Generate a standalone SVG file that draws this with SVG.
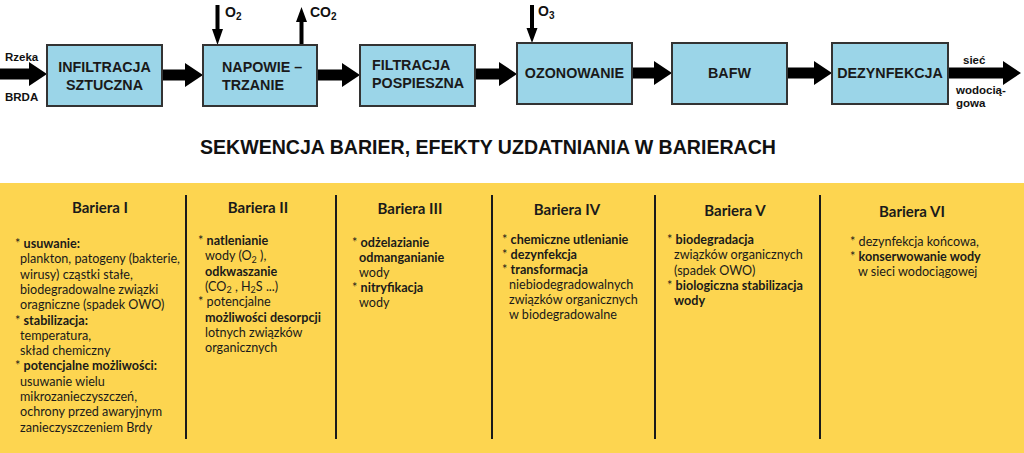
<svg xmlns="http://www.w3.org/2000/svg" width="1024" height="453" viewBox="0 0 1024 453">
<style>
.box{fill:#9bd5e8;stroke:#333;stroke-width:2}
.bt{font-family:"Liberation Sans",Arial,sans-serif;font-weight:bold;font-size:14.3px;fill:#1a1a1a}
.lab{font-family:"Liberation Sans",Arial,sans-serif;font-weight:bold;font-size:11.5px;fill:#111}
.gas{font-family:"Liberation Sans",Arial,sans-serif;font-weight:bold;font-size:14px;fill:#111}
.arr{fill:#000}
.title{font-family:"Liberation Sans",Arial,sans-serif;font-weight:bold;font-size:19.5px;fill:#111}
.div{stroke:#1a1a1a;stroke-width:2}
.h{font-family:Lato,"Noto Sans",sans-serif;font-weight:bold;font-size:15px;fill:#1a1a1a;text-anchor:middle}
.t{font-family:Lato,"Noto Sans",sans-serif;font-size:12.6px;fill:#1a1a1a}
.b{font-weight:bold}
.sub{font-size:9px}
</style>
<rect x="0" y="0" width="1024" height="453" fill="#fff"/>
<rect x="0" y="183" width="1024" height="270" fill="#fdd550"/>

<g id="connectors">
<polygon class="arr" points="0,68.5 29,68.5 29,62 47,74 29,86 29,79.5 0,79.5"/>
<polygon class="arr" points="162,69.5 185,69.5 185,63 203,75 185,87 185,80.5 162,80.5"/>
<polygon class="arr" points="317,69.5 342,69.5 342,63 360,75 342,87 342,80.5 317,80.5"/>
<polygon class="arr" points="475,68.5 499,68.5 499,62 517,74 499,86 499,79.5 475,79.5"/>
<polygon class="arr" points="632,67.5 654,67.5 654,61 672,73 654,85 654,78.5 632,78.5"/>
<polygon class="arr" points="787,67.5 814,67.5 814,61 832,73 814,85 814,78.5 787,78.5"/>
<polygon class="arr" points="948,67.5 1003,67.5 1003,61 1021,73 1003,85 1003,78.5 948,78.5"/>
<polygon class="arr" points="215.5,5 219.5,5 219.5,29 223,29 217.5,45 212,29 215.5,29"/>
<polygon class="arr" points="301.5,7 307,22 303.5,22 303.5,45 299.5,45 299.5,22 296,22"/>
<polygon class="arr" points="530,5 534,5 534,28 537.5,28 532,43 526.5,28 530,28"/>
<text class="lab" x="5" y="61">Rzeka</text>
<text class="lab" x="5" y="101">BRDA</text>
<text class="lab" x="963" y="64">sieć</text>
<text class="lab" x="956" y="94">wodocią-</text>
<text class="lab" x="956" y="107">gowa</text>
<text class="gas" x="225" y="17">O<tspan font-size="10" dy="3">2</tspan></text>
<text class="gas" x="310" y="17">CO<tspan font-size="10" dy="3">2</tspan></text>
<text class="gas" x="538" y="16" font-weight="normal">O<tspan font-size="10" dy="3">3</tspan></text>
</g>

<g id="infiltracja">
<rect class="box" x="47" y="45" width="115" height="61"/>
<text class="bt" x="104.5" y="72" text-anchor="middle">INFILTRACJA</text>
<text class="bt" x="104.5" y="90" text-anchor="middle">SZTUCZNA</text>
</g>
<g id="napowietrzanie">
<rect class="box" x="203" y="45" width="114" height="61"/>
<text class="bt" x="222" y="72">NAPOWIE –</text>
<text class="bt" x="222" y="90">TRZANIE</text>
</g>
<g id="filtracja">
<rect class="box" x="360" y="45" width="115" height="61"/>
<text class="bt" x="372" y="70">FILTRACJA</text>
<text class="bt" x="372" y="88">POSPIESZNA</text>
</g>
<g id="ozonowanie">
<rect class="box" x="517" y="43" width="115" height="61"/>
<text class="bt" x="574.5" y="78" text-anchor="middle">OZONOWANIE</text>
</g>
<g id="bafw">
<rect class="box" x="672" y="43" width="115" height="61"/>
<text class="bt" x="729.5" y="78" text-anchor="middle">BAFW</text>
</g>
<g id="dezynfekcja">
<rect class="box" x="832" y="43" width="116" height="61"/>
<text class="bt" x="890" y="78" text-anchor="middle">DEZYNFEKCJA</text>
</g>

<text class="title" x="200" y="154" textLength="576" lengthAdjust="spacingAndGlyphs">SEKWENCJA BARIER, EFEKTY UZDATNIANIA W BARIERACH</text>

<g id="dividers">
<line class="div" x1="186" y1="195" x2="186" y2="439"/>
<line class="div" x1="336" y1="195" x2="336" y2="439"/>
<line class="div" x1="492" y1="195" x2="492" y2="439"/>
<line class="div" x1="655" y1="195" x2="655" y2="439"/>
<line class="div" x1="820" y1="195" x2="820" y2="439"/>
</g>

<g id="bariera-1">
<text class="h" x="100" y="213">Bariera I</text>
<text class="t" x="15" y="248">* <tspan class="b">usuwanie:</tspan></text>
<text class="t" x="20" y="263.3">plankton, patogeny (bakterie,</text>
<text class="t" x="20" y="278.6">wirusy) cząstki stałe,</text>
<text class="t" x="20" y="293.9">biodegradowalne związki</text>
<text class="t" x="20" y="309.2">oragniczne (spadek OWO)</text>
<text class="t" x="15" y="324.5">* <tspan class="b">stabilizacja:</tspan></text>
<text class="t" x="20" y="339.8">temperatura,</text>
<text class="t" x="20" y="355.1">skład chemiczny</text>
<text class="t" x="15" y="370.4">* <tspan class="b">potencjalne możliwości:</tspan></text>
<text class="t" x="20" y="385.7">usuwanie wielu</text>
<text class="t" x="20" y="401">mikrozanieczyszczeń,</text>
<text class="t" x="20" y="416.3">ochrony przed awaryjnym</text>
<text class="t" x="20" y="431.6">zanieczyszczeniem Brdy</text>
</g>

<g id="bariera-2">
<text class="h" x="258" y="213">Bariera II</text>
<text class="t" x="198" y="245">* <tspan class="b">natlenianie</tspan></text>
<text class="t" x="205" y="260.3">wody (O<tspan class="sub" dy="2.5">2</tspan><tspan dy="-2.5"> ),</tspan></text>
<text class="t b" x="205" y="275.6">odkwaszanie</text>
<text class="t" x="205" y="290.9">(CO<tspan class="sub" dy="2.5">2</tspan><tspan dy="-2.5"> , H</tspan><tspan class="sub" dy="2.5">2</tspan><tspan dy="-2.5">S  ...)</tspan></text>
<text class="t" x="198" y="306.2">* potencjalne</text>
<text class="t b" x="205" y="321.5">możliwości desorpcji</text>
<text class="t" x="205" y="336.8">lotnych związków</text>
<text class="t" x="205" y="352.1">organicznych</text>
</g>

<g id="bariera-3">
<text class="h" x="410" y="214">Bariera III</text>
<text class="t" x="352" y="247">* <tspan class="b">odżelazianie</tspan></text>
<text class="t b" x="359" y="262">odmanganianie</text>
<text class="t" x="359" y="277">wody</text>
<text class="t" x="352" y="292">* <tspan class="b">nitryfikacja</tspan></text>
<text class="t" x="359" y="307">wody</text>
</g>

<g id="bariera-4">
<text class="h" x="567" y="215">Bariera IV</text>
<text class="t" x="502" y="244">* <tspan class="b">chemiczne utlenianie</tspan></text>
<text class="t" x="502" y="259">* <tspan class="b">dezynfekcja</tspan></text>
<text class="t" x="502" y="274">* <tspan class="b">transformacja</tspan></text>
<text class="t" x="509" y="289">niebiodegradowalnych</text>
<text class="t" x="509" y="304">związków organicznych</text>
<text class="t" x="509" y="319">w biodegradowalne</text>
</g>

<g id="bariera-5">
<text class="h" x="735" y="216">Bariera V</text>
<text class="t" x="667" y="244">* <tspan class="b">biodegradacja</tspan></text>
<text class="t" x="674" y="259.3">związków organicznych</text>
<text class="t" x="674" y="274.6">(spadek OWO)</text>
<text class="t" x="667" y="290">* <tspan class="b">biologiczna stabilizacja</tspan></text>
<text class="t b" x="674" y="305">wody</text>
</g>

<g id="bariera-6">
<text class="h" x="912" y="217">Bariera VI</text>
<text class="t" x="850" y="246">* dezynfekcja końcowa,</text>
<text class="t" x="850" y="261">* <tspan class="b">konserwowanie wody</tspan></text>
<text class="t" x="858" y="276">w sieci wodociągowej</text>
</g>
</svg>
